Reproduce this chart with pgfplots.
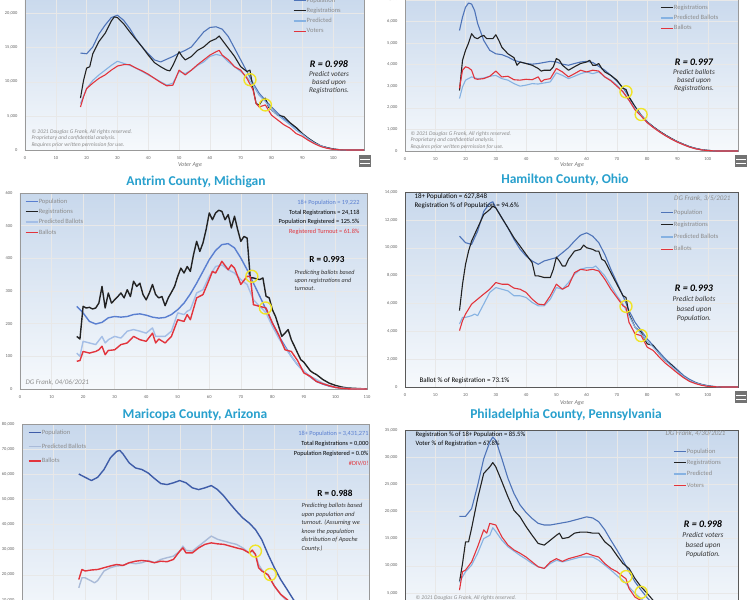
\documentclass[border=0pt]{standalone}
\usepackage{fontspec}
\setmainfont{Carlito}
\usepackage{pgfplots}
\pgfplotsset{compat=1.18}

\definecolor{popblue}{RGB}{79,116,184}
\definecolor{popblueb}{RGB}{90,127,208}
\definecolor{popbluec}{RGB}{62,92,168}
\definecolor{regblack}{RGB}{34,34,34}
\definecolor{predblue}{RGB}{134,178,226}
\definecolor{predblueb}{RGB}{164,190,230}
\definecolor{predbluec}{RGB}{170,187,216}
\definecolor{votred}{RGB}{226,52,60}
\definecolor{circy}{RGB}{240,228,40}
\definecolor{bgtop}{RGB}{200,216,236}
\definecolor{bgbot}{RGB}{246,249,252}
\definecolor{titleblue}{RGB}{40,160,205}

\pgfplotsset{
  panel/.style={
    scale only axis, anchor=south west,
    xmin=0, xmax=110, ymin=0, xtick={0,10,...,110},
    scaled y ticks=false, major tick length=0pt,
    grid=major, grid style={black!9, line width=0.35pt},
    axis line style={black!40, line width=0.5pt},
    axis background/.style={top color=bgtop, bottom color=bgbot},
    tick label style={font=\fontsize{4.5}{5}\selectfont, text=black!60},
    yticklabel style={xshift=-4pt},
    xticklabel style={yshift=-3pt},
    /pgf/number format/1000 sep={,},
    /pgf/number format/assume math mode=true,
    legend cell align=left,
    legend image code/.code={\draw[#1, line width=1.3pt] (0pt,0pt) -- (12pt,0pt);},
    legend style={draw=none, fill=none, inner sep=0pt, text=black!45,
      font=\fontsize{6.5}{7}\selectfont,
      nodes={inner sep=0.4pt, text height=4.5pt, text depth=1pt}},
    every axis plot/.append style={line width=1.1pt, line join=round},
  },
  ycircle/.style={only marks, mark=o, mark size=6pt,
    mark options={draw=circy, line width=1.4pt}, forget plot},
}

\begin{document}
\begin{tikzpicture}[x=1pt,y=1pt]
\useasboundingbox (0,0) rectangle (750,-600);
\clip (0,0) rectangle (750,-600);
\fill[white] (0,0) rectangle (750,-600);

% ---------- top left
\begin{axis}[panel, at={(25pt,-150pt)}, width=339pt, height=157pt,
  ymax=23000, ytick={0,5000,...,20000},
  legend style={at={(0.79,0.975)}, anchor=north west, row sep=4pt}]
\addplot[popblue] coordinates {(18,14200)(20,14100)(22,15100)(24,17000)(26,18300)(28,19400)(30,19750)(32,19000)(34,17800)(36,16300)(38,15100)(40,14100)(42,13200)(44,12900)(46,13300)(48,13700)(50,14200)(52,14600)(54,15100)(56,16200)(58,17300)(60,17950)(62,18050)(64,17700)(66,16600)(68,14900)(70,13200)(72,11500)(74,9800)(76,8300)(78,7300)(80,6300)(82,5400)(84,4600)(86,3900)(88,3200)(90,2400)(92,1700)(94,1100)(96,600)(98,350)(100,150)(102,50)(105,0)(110,0)};
\addlegendentry{Population}
\addplot[regblack] coordinates {(18,7600)(19,10200)(20,12000)(21,12200)(22,14100)(24,15900)(26,17100)(28,18900)(29,19500)(30,19400)(32,18500)(34,17300)(36,16200)(38,15100)(40,13900)(42,12800)(44,12200)(46,11700)(47,11600)(48,12400)(50,14400)(51,13700)(52,13200)(54,13700)(56,14600)(58,15100)(60,15900)(62,16300)(63,16700)(64,16100)(66,14900)(68,13700)(70,12200)(72,11500)(73,11700)(74,9000)(75,6800)(76,6600)(77,7300)(78,7600)(79,6300)(80,5900)(82,5100)(84,4900)(86,4000)(88,3300)(90,2400)(92,1700)(94,1100)(96,600)(98,350)(100,150)(102,50)(105,0)(110,0)};
\addlegendentry{Registrations}
\addplot[predblue] coordinates {(18,6800)(20,9000)(22,10200)(24,11000)(26,11700)(28,12400)(30,13000)(32,12700)(34,12400)(36,12000)(38,11500)(40,11000)(42,10500)(44,10000)(46,9500)(48,9800)(50,11500)(52,11200)(54,11700)(56,12400)(58,12900)(60,13700)(62,14000)(64,13800)(66,12900)(68,12200)(70,11500)(72,10700)(74,9500)(76,8000)(78,7100)(80,5900)(82,5100)(84,4400)(86,3700)(88,2900)(90,2300)(92,1600)(94,1000)(96,600)(98,300)(100,100)(102,30)(105,0)(110,0)};
\addlegendentry{Predicted}
\addplot[votred] coordinates {(18,6300)(19,7800)(20,9000)(22,9800)(24,10500)(26,11000)(28,11700)(30,12300)(32,12500)(34,12500)(36,12000)(38,11600)(40,11100)(42,10500)(44,9900)(46,9400)(48,9500)(50,11700)(52,11000)(54,11700)(56,12500)(58,13200)(60,13900)(62,14400)(63,14600)(64,13900)(66,13200)(68,12200)(70,11700)(72,10500)(74,8800)(75,6800)(76,6300)(78,6600)(80,5100)(82,4400)(84,3700)(86,3200)(88,2400)(90,2000)(92,1400)(94,900)(96,500)(98,250)(100,100)(102,30)(105,0)(110,0)};
\addlegendentry{Voters}
\addplot[ycircle] coordinates {(73,10300)(78,6600)};
\end{axis}

% ---------- top right
\begin{axis}[panel, at={(405pt,-151pt)}, width=333pt, height=157.7pt,
  ymax=7300, ytick={0,1000,...,7000},
  legend style={at={(0.766,0.996)}, anchor=north west, row sep=4pt}]
\addplot[popblue] coordinates {(18,5580)(19,6200)(20,6660)(21,6850)(22,6800)(23,6500)(24,5900)(26,5120)(28,4660)(30,4500)(32,4460)(34,4350)(36,4200)(38,4120)(40,4050)(42,4020)(44,4050)(46,4100)(48,4150)(50,4120)(52,4020)(54,3970)(56,4050)(58,4120)(60,4150)(62,4100)(64,3920)(66,3740)(68,3500)(70,3230)(72,2940)(74,2500)(76,2050)(78,1660)(80,1350)(82,1120)(84,920)(86,740)(88,580)(90,430)(92,310)(94,200)(96,120)(98,60)(100,30)(103,0)(110,0)};
\addlegendentry{Population}
\addplot[regblack] coordinates {(18,2800)(19,4200)(20,4660)(21,5000)(22,5430)(23,5250)(24,5200)(25,5300)(26,5350)(27,5200)(28,5200)(29,5200)(30,5380)(31,5120)(32,4800)(34,4500)(36,4320)(37,3970)(38,4120)(40,4050)(42,3970)(44,3820)(45,3700)(46,3740)(48,3740)(49,3900)(50,4280)(51,4200)(52,3970)(54,3740)(56,3900)(58,4050)(60,4120)(61,4200)(62,3970)(63,3970)(64,4050)(65,3820)(66,3660)(68,3500)(70,3280)(72,2900)(73,2850)(74,2500)(76,2050)(78,1660)(80,1350)(82,1120)(84,920)(86,740)(88,580)(90,430)(92,310)(94,200)(96,120)(98,60)(100,30)(103,0)(110,0)};
\addlegendentry{Registrations}
\addplot[predblue] coordinates {(18,2430)(19,2970)(20,3280)(22,3430)(24,3350)(26,3380)(28,3460)(30,3500)(32,3350)(34,3280)(36,3120)(38,3000)(40,3050)(42,3120)(44,3100)(46,3150)(48,3200)(50,3620)(52,3500)(54,3350)(56,3460)(58,3580)(60,3660)(62,3580)(64,3660)(66,3430)(68,3280)(70,3050)(72,2740)(74,2350)(76,1970)(78,1660)(80,1330)(82,1100)(84,900)(86,720)(88,560)(90,420)(92,300)(94,190)(96,110)(98,55)(100,25)(103,0)(110,0)};
\addlegendentry{Predicted Ballots}
\addplot[votred] coordinates {(18,2900)(19,3740)(20,3900)(21,3850)(22,3740)(23,3350)(24,3320)(26,3350)(28,3460)(30,3700)(32,3430)(34,3460)(36,3300)(38,3280)(40,3320)(42,3300)(44,3430)(45,3200)(46,3300)(48,3350)(50,3820)(52,3660)(54,3430)(56,3580)(58,3740)(60,3660)(62,3740)(64,3700)(66,3430)(68,3250)(70,3000)(72,2740)(74,2350)(76,1900)(78,1620)(80,1310)(82,1090)(84,890)(86,710)(88,550)(90,410)(92,290)(94,180)(96,100)(98,50)(100,20)(103,0)(110,0)};
\addlegendentry{Ballots}
\addplot[ycircle] coordinates {(73,2740)(78,1690)};
\end{axis}

% ---------- middle left
\begin{axis}[panel, at={(20pt,-389pt)}, width=347pt, height=196pt,
  ymax=600, ytick={0,100,...,600},
  every axis plot/.append style={line width=1.4pt},
  legend style={at={(0.014,0.974)}, anchor=north west, row sep=4pt}]
\addplot[popblueb] coordinates {(18,253)(20,233)(22,207)(24,199)(26,204)(28,218)(30,222)(32,220)(34,222)(36,228)(38,230)(40,226)(42,220)(44,217)(46,219)(48,228)(50,243)(52,263)(54,291)(56,324)(58,360)(60,396)(62,424)(64,442)(66,445)(68,432)(70,401)(72,365)(74,324)(76,284)(78,243)(80,202)(82,163)(84,131)(86,100)(88,74)(90,54)(92,37)(94,23)(96,15)(98,9)(100,5)(102,2)(105,1)(110,0)};
\addlegendentry{Population}
\addplot[regblack] coordinates {(18,161)(19,153)(20,253)(21,248)(22,250)(23,245)(24,248)(25,263)(26,314)(27,248)(28,294)(29,263)(30,273)(31,283)(32,294)(33,279)(34,304)(35,283)(36,330)(37,314)(38,324)(39,289)(40,273)(41,294)(42,320)(43,289)(44,279)(45,283)(46,255)(47,279)(48,296)(49,314)(50,345)(51,370)(52,355)(53,375)(54,360)(55,411)(56,452)(57,421)(58,447)(59,488)(60,539)(61,518)(62,539)(63,547)(64,544)(65,518)(66,534)(67,493)(68,529)(69,488)(70,452)(71,467)(72,462)(73,340)(74,340)(75,337)(76,335)(77,340)(78,284)(79,279)(80,243)(81,222)(82,192)(83,161)(84,171)(85,182)(86,151)(87,131)(88,110)(89,90)(90,82)(91,69)(92,56)(93,49)(94,44)(96,29)(98,18)(100,11)(102,6)(104,3)(106,2)(108,1)(110,0)};
\addlegendentry{Registrations}
\addplot[predblueb] coordinates {(18,110)(19,100)(20,146)(22,141)(24,136)(26,161)(27,141)(28,151)(30,161)(32,156)(34,177)(36,182)(38,177)(40,171)(42,187)(43,161)(44,161)(46,161)(48,177)(50,233)(52,228)(53,238)(54,243)(56,294)(58,304)(60,345)(62,375)(64,380)(66,365)(68,355)(70,335)(72,320)(74,273)(76,253)(78,233)(80,192)(82,156)(84,126)(86,100)(88,74)(90,54)(92,39)(94,29)(96,18)(98,11)(100,6)(102,3)(105,1)(110,0)};
\addlegendentry{Predicted Ballots}
\addplot[votred] coordinates {(18,85)(19,87)(20,115)(22,110)(24,115)(25,120)(26,131)(27,105)(28,118)(30,120)(32,136)(34,141)(36,161)(38,151)(40,146)(42,171)(43,141)(44,153)(46,141)(48,161)(50,212)(52,207)(53,228)(54,212)(56,279)(58,289)(60,335)(61,360)(62,355)(64,391)(66,365)(67,380)(68,370)(70,320)(72,345)(73,345)(74,258)(76,253)(78,248)(80,202)(82,166)(84,120)(86,115)(88,87)(90,49)(92,39)(94,23)(96,16)(98,10)(100,5)(102,2)(105,0)(110,0)};
\addlegendentry{Ballots}
\addplot[ycircle] coordinates {(73.5,345)(77.8,248)};
\end{axis}

% ---------- middle right
\begin{axis}[panel, at={(405pt,-387pt)}, width=333pt, height=195pt,
  ymax=14000, ytick={0,2000,...,14000},
  axis line style={black!65, line width=0.9pt},
  legend style={at={(0.766,0.913)}, anchor=north west, row sep=6pt}]
\addplot[popblue] coordinates {(18,10830)(20,10360)(22,10240)(24,11190)(26,12600)(28,13200)(29,13300)(30,12860)(32,12140)(34,11430)(36,10600)(38,9900)(40,9400)(42,9050)(44,8810)(46,9050)(48,9170)(50,9290)(52,9640)(54,10000)(56,10480)(58,10900)(60,11070)(62,10830)(64,10360)(66,9520)(68,8450)(70,7500)(72,6550)(74,5480)(76,4640)(78,4050)(80,3450)(82,2980)(84,2500)(86,2020)(88,1620)(90,1240)(92,830)(94,550)(96,330)(98,190)(100,100)(102,40)(105,0)(110,0)};
\addlegendentry{Population}
\addplot[regblack] coordinates {(18,5480)(19,7380)(20,8810)(21,9760)(22,10480)(24,11430)(26,12380)(28,12740)(29,12980)(30,12860)(32,12140)(34,11430)(36,10710)(38,10120)(40,9520)(42,8930)(43,7980)(44,7980)(46,7860)(48,7860)(49,8450)(50,9330)(51,9050)(52,8690)(53,8690)(54,9170)(56,9760)(58,9880)(59,10190)(60,10000)(62,9880)(63,9760)(64,9760)(65,9170)(66,9050)(68,8210)(70,7380)(72,6550)(73,6430)(74,5240)(76,4290)(78,3930)(80,3100)(82,2980)(84,2380)(86,1900)(88,1600)(90,1140)(92,760)(94,480)(96,290)(98,170)(100,70)(102,30)(105,0)(110,0)};
\addlegendentry{Registrations}
\addplot[predblue] coordinates {(18,4520)(19,5000)(20,5000)(22,5120)(23,5240)(24,5120)(26,5950)(28,6790)(30,7140)(32,7020)(34,6900)(36,6550)(38,6550)(40,6430)(42,6070)(44,5830)(46,5830)(48,6310)(50,7140)(52,7020)(54,7500)(56,8100)(58,8450)(60,8570)(62,8570)(63,8690)(64,8450)(66,7980)(68,7260)(70,6550)(72,5950)(74,5120)(76,4290)(78,3810)(80,3290)(82,2860)(84,2380)(86,1900)(88,1500)(90,1120)(92,760)(94,480)(96,290)(98,170)(100,70)(102,30)(105,0)(110,0)};
\addlegendentry{Predicted Ballots}
\addplot[votred] coordinates {(18,4050)(19,4760)(20,5240)(22,5950)(24,6310)(26,6670)(28,7020)(30,7500)(32,7380)(34,7380)(36,7100)(38,7020)(40,6790)(42,6310)(44,5950)(46,5900)(48,6550)(50,7380)(52,7020)(54,7260)(56,8210)(58,8450)(60,8380)(62,8450)(64,8330)(66,7740)(68,7020)(70,6430)(72,5830)(73,5710)(74,4640)(76,3810)(78,3690)(80,2860)(82,2620)(84,2140)(86,1710)(88,1360)(90,1000)(92,670)(94,400)(96,240)(98,120)(100,50)(102,20)(105,0)(110,0)};
\addlegendentry{Ballots}
\addplot[ycircle] coordinates {(73,5790)(78,3690)};
\end{axis}

% ---------- bottom left
\begin{axis}[panel, at={(22pt,-625pt)}, width=347pt, height=201pt,
  ymax=80000, ytick={0,10000,...,80000},
  every axis plot/.append style={line width=1.4pt},
  legend style={at={(0.017,0.975)}, anchor=north west, row sep=8pt}]
\addplot[popbluec] coordinates {(18,60100)(20,58800)(22,57500)(24,58800)(26,61900)(28,66500)(30,69100)(31,69500)(32,68100)(34,64500)(36,62500)(38,61900)(40,60500)(42,58300)(44,56300)(46,55900)(48,56600)(50,57500)(52,56600)(54,54600)(56,53900)(58,54600)(60,55500)(62,53900)(64,51300)(66,48200)(68,45300)(70,42600)(72,40600)(74,38000)(76,34000)(78,28100)(80,22800)(82,18100)(84,14200)(86,10200)(88,6900)(90,4200)(92,2200)(94,1200)(96,500)(100,100)(105,0)(110,0)};
\addlegendentry{Population}
\addplot[predbluec] coordinates {(18,14800)(19,18800)(20,18800)(22,17500)(23,16800)(24,17700)(26,21500)(28,22800)(30,23500)(32,23700)(34,24800)(36,24400)(38,24800)(40,25700)(42,24800)(44,26100)(46,26800)(48,27400)(50,29400)(51,31400)(52,29700)(54,29400)(56,31400)(58,33400)(60,35400)(62,34100)(64,33400)(66,32700)(68,32100)(70,30700)(72,28700)(73,29400)(74,28100)(75,24100)(76,22100)(77,20800)(78,20100)(80,15500)(82,12200)(84,9500)(86,6900)(88,4900)(90,2900)(92,1600)(95,700)(100,100)(105,0)(110,0)};
\addlegendentry{Predicted Ballots}
\addplot[votred] coordinates {(18,18100)(19,22100)(20,21500)(22,21900)(24,22100)(26,22800)(28,23500)(30,24100)(32,23700)(34,24800)(36,25400)(38,25700)(40,25400)(42,24800)(44,25400)(46,25200)(48,26100)(50,29400)(51,30700)(52,28700)(54,28700)(56,30700)(58,32100)(60,32700)(62,32300)(64,32100)(66,31400)(68,30700)(70,30100)(72,28700)(73,29800)(74,28100)(75,22800)(76,21500)(77,20800)(78,19900)(80,15500)(82,12200)(84,10200)(86,7600)(88,5300)(90,3200)(92,1900)(95,700)(100,100)(105,0)(110,0)};
\addlegendentry{Ballots}
\addplot[ycircle] coordinates {(74,29400)(78.7,20100)};
\end{axis}

% ---------- bottom right
\begin{axis}[panel, at={(405pt,-620pt)}, width=333pt, height=190pt,
  ymax=35000, ytick={0,5000,...,35000},
  axis line style={black!65, line width=0.9pt},
  legend style={at={(0.805,0.905)}, anchor=north west, row sep=5pt}]
\addplot[popblue] coordinates {(18,19100)(20,19100)(22,20500)(24,24800)(26,29700)(28,32800)(29,33700)(30,33100)(32,29700)(34,26100)(36,23300)(38,21200)(40,19800)(42,18700)(44,17800)(46,17500)(48,17500)(50,17700)(52,17900)(54,18100)(56,18400)(58,18700)(60,19000)(62,18800)(64,18100)(66,16600)(68,14700)(70,12900)(72,11000)(74,8900)(76,7000)(78,5500)(80,4100)(82,3000)(84,2100)(86,1300)(88,900)(90,500)(95,150)(100,30)(105,0)(110,0)};
\addlegendentry{Population}
\addplot[regblack] coordinates {(18,7000)(19,10400)(20,14400)(21,14400)(22,16900)(24,22400)(26,27000)(28,28200)(29,29000)(30,28200)(32,25500)(34,22700)(36,20200)(38,19000)(40,17200)(42,15600)(44,14100)(46,13800)(48,14700)(50,15600)(51,16000)(52,15000)(54,15200)(56,16000)(58,16200)(60,16200)(62,16000)(64,16000)(66,14400)(68,13500)(70,11900)(72,10400)(74,9500)(76,7600)(78,6100)(80,4900)(82,3600)(84,2400)(86,1600)(88,1000)(90,550)(95,150)(100,30)(105,0)(110,0)};
\addlegendentry{Registrations}
\addplot[predblue] coordinates {(18,7000)(20,8900)(22,10100)(24,12300)(26,15000)(28,15600)(29,17000)(30,16300)(32,14700)(34,13500)(36,12700)(38,11900)(40,11200)(42,10400)(44,9800)(46,9500)(48,10400)(50,11000)(52,10700)(54,11000)(56,11300)(58,11600)(60,11600)(62,11600)(64,11000)(66,10100)(68,9200)(70,8200)(72,7300)(74,6100)(76,4900)(78,3900)(80,3000)(82,2200)(84,1600)(86,1000)(88,700)(90,400)(95,100)(100,20)(105,0)(110,0)};
\addlegendentry{Predicted}
\addplot[votred] coordinates {(18,5500)(19,8900)(20,9200)(22,10700)(24,13500)(26,16600)(27,16000)(28,17800)(30,17500)(32,15300)(34,13800)(36,12900)(38,12300)(40,11600)(42,10700)(44,9800)(46,9500)(48,10700)(50,11300)(52,10800)(54,11300)(56,11600)(58,11900)(60,12300)(62,11900)(64,11600)(66,10400)(68,9500)(70,8900)(72,8000)(73,7600)(74,5800)(76,4200)(78,3600)(80,2800)(82,2100)(84,1500)(86,1000)(88,600)(90,350)(95,100)(100,20)(105,0)(110,0)};
\addlegendentry{Voters}
\addplot[ycircle] coordinates {(73,8000)(78,5100)};
\end{axis}

% ---------- texts
\tikzset{
  ttl/.style={font=\bfseries\fontsize{13.5}{14}\selectfont, text=titleblue},
  vage/.style={font=\itshape\fontsize{6}{7}\selectfont, text=black!55},
  cpr/.style={anchor=west, align=left, font=\itshape\fontsize{5.6}{6.6}\selectfont, text=black!45},
  rbi/.style={font=\bfseries\itshape\fontsize{10}{11}\selectfont},
  rb/.style={font=\bfseries\fontsize{9.2}{10}\selectfont},
  note/.style={align=center, font=\itshape\fontsize{7.2}{8}\selectfont, text=black!80},
  info/.style={font=\fontsize{6.3}{7}\selectfont},
  stamp/.style={font=\itshape\fontsize{7}{8}\selectfont, text=black!45},
}
\node[ttl] at (196,-182) {Antrim County, Michigan};
\node[ttl] at (565,-180) {Hamilton County, Ohio};
\node[ttl] at (195,-415) {Maricopa County, Arizona};
\node[ttl] at (566,-415) {Philadelphia County, Pennsylvania};
\node[vage] at (190,-165) {Voter Age};
\node[vage] at (572,-165) {Voter Age};
\node[vage] at (572,-403) {Voter Age};

\node[cpr] at (28,-138.5) {© 2021 Douglas G Frank, All rights reserved.\\Proprietary and confidential analysis.\\Requires prior written permission for use.};
\node[cpr] at (407,-140.5) {© 2021 Douglas G Frank, All rights reserved.\\Proprietary and confidential analysis.\\Requires prior written permission for use.};
\node[cpr] at (412,-598) {© 2021 Douglas G Frank, All rights reserved.};

\node[rbi] at (329,-64) {R = 0.998};
\node[note] at (329,-83) {Predict voters\\based upon\\Registrations.};
\node[rbi] at (694,-62) {R = 0.997};
\node[note] at (694,-81) {Predict ballots\\based upon\\Registrations.};
\node[rbi] at (694,-288) {R = 0.993};
\node[note, font=\itshape\fontsize{7.4}{9.5}\selectfont] at (694,-309.5) {Predict ballots\\based upon\\Population.};
\node[rbi] at (703,-524) {R = 0.998};
\node[note, font=\itshape\fontsize{7.4}{9.5}\selectfont] at (703,-545.5) {Predict voters\\based upon\\Population.};

\node[rb] at (327,-260) {R = 0.993};
\node[anchor=north west, align=left, font=\itshape\fontsize{6.2}{7.6}\selectfont, text=black!80] at (291,-267) {Predicting ballots based\\upon registrations and\\turnout.};
\node[rb] at (335,-493) {R = 0.988};
\node[anchor=north west, align=left, font=\itshape\fontsize{6.3}{8.5}\selectfont, text=black!80] at (298,-500) {Predicting ballots based\\upon population and\\turnout. (Assuming we\\know the population\\distribution of Apache\\County.)};

\node[info, anchor=east, text=popblueb] at (363,-203) {18+ Population = 19,222};
\node[info, anchor=east] at (363,-212.5) {Total Registrations = 24,118};
\node[info, anchor=east] at (363,-222) {Population Registered = 125.5\%};
\node[info, anchor=east, text=votred] at (363,-231.5) {Registered Turnout = 61.8\%};
\node[stamp, anchor=west] at (22,-383) {DG Frank, 04/06/2021};

\node[info, anchor=east, text=popblueb] at (372,-434) {18+ Population = 3,431,271};
\node[info, anchor=east] at (372,-444) {Total Registrations = 0,000};
\node[info, anchor=east] at (372,-454) {Population Registered = 0.0\%};
\node[info, anchor=east, text=votred] at (372,-463) {\#DIV/0!};

\node[info, anchor=west, font=\fontsize{7}{8}\selectfont] at (411,-197) {18+ Population = 627,848};
\node[info, anchor=west, font=\fontsize{7}{8}\selectfont] at (411,-206) {Registration \% of Population = 94.6\%};
\node[stamp, anchor=east] at (734,-199) {DG Frank, 3/5/2021};
\node[info, anchor=west, font=\fontsize{7}{8}\selectfont] at (416,-381) {Ballot \% of Registration = 73.1\%};

\node[info, anchor=west, font=\fontsize{6.6}{8}\selectfont] at (412,-435) {Registration \% of 18+ Population = 85.5\%};
\node[info, anchor=west, font=\fontsize{6.6}{8}\selectfont] at (412,-444) {Voter \% of Registration = 67.8\%};
\node[stamp, anchor=east] at (729,-434) {DG Frank, 4/30/2021};

% small toolbar icons at the corners
\foreach \x/\y in {365/161, 741/161, 741/397}{
  \fill[black!55] (\x-6,-\y+6) rectangle (\x+6,-\y-6);
  \draw[white, line width=0.5pt] (\x-5,-\y+2) -- (\x+5,-\y+2) (\x-5,-\y-2) -- (\x+5,-\y-2);
}
\end{tikzpicture}
\end{document}
